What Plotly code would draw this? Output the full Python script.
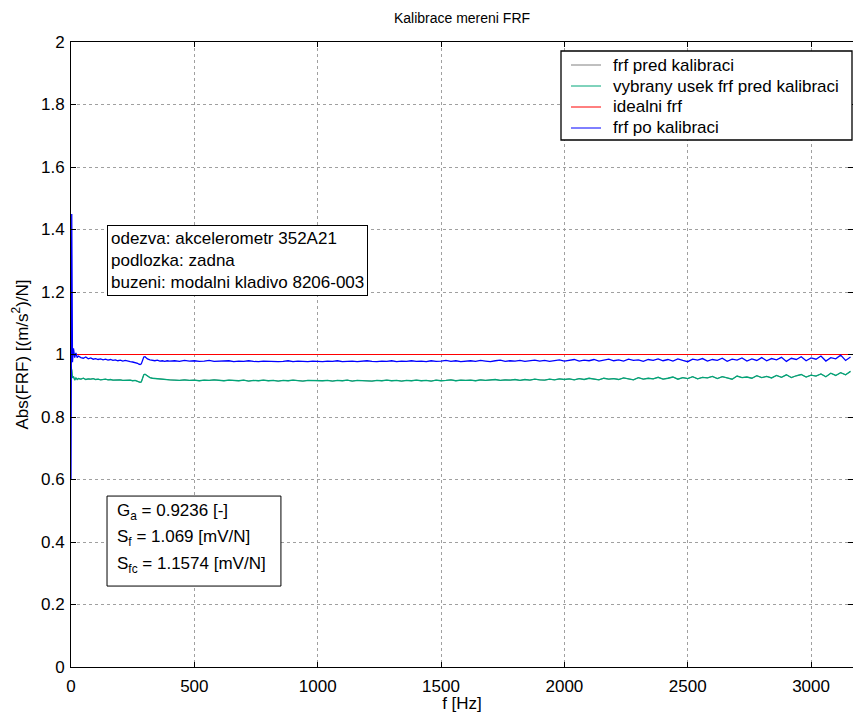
import plotly.graph_objects as go

# ---------------- data ----------------
freq_head = [0, 3, 6, 10, 15, 20, 25, 30, 40, 50, 60, 70, 80, 90, 100, 110, 120, 130, 140, 150,
             160, 170, 180, 190, 200, 210, 220, 230, 240, 250, 260, 270, 275, 280, 285, 290, 295,
             300, 305, 310, 320, 330, 340, 350, 360, 370, 380, 390, 400]
freq_tail = list(range(420, 3180, 20))
freq = freq_head + freq_tail

blue_head = [0.60, 1.45, 0.975, 1.02, 0.99, 1.005, 0.99, 0.995, 0.99, 0.988, 0.992, 0.986, 0.989,
             0.985, 0.987, 0.984, 0.986, 0.983, 0.985, 0.982, 0.984, 0.981, 0.983, 0.980, 0.982,
             0.979, 0.981, 0.978, 0.977, 0.976, 0.975, 0.972, 0.969, 0.968, 0.970, 0.985, 0.992,
             0.993, 0.990, 0.986, 0.983, 0.981, 0.980, 0.982, 0.979, 0.980, 0.978, 0.980, 0.979]
blue_tail = [
    0.980, 0.978, 0.981, 0.979, 0.980, 0.978, 0.979, 0.981, 0.978, 0.979,
    0.978, 0.980, 0.977, 0.979, 0.978, 0.980, 0.978, 0.977, 0.979, 0.978,
    0.979, 0.977, 0.978, 0.980, 0.977, 0.979, 0.978, 0.977, 0.979, 0.978,
    0.977, 0.979, 0.978, 0.980, 0.977, 0.978, 0.979, 0.977, 0.978, 0.980,
    0.978, 0.977, 0.979, 0.978, 0.980, 0.977, 0.979, 0.978, 0.980, 0.978,
    0.979, 0.977, 0.980, 0.978, 0.979, 0.981, 0.978, 0.980, 0.977, 0.979,
    0.980, 0.978, 0.981, 0.979, 0.977, 0.980, 0.982, 0.978, 0.980, 0.979,
    0.981, 0.978, 0.980, 0.982, 0.979, 0.981, 0.978, 0.980, 0.983, 0.979,
    0.981, 0.984, 0.979, 0.982, 0.980, 0.984, 0.979, 0.982, 0.985, 0.980,
    0.983, 0.979, 0.985, 0.981, 0.983, 0.978, 0.984, 0.981, 0.986, 0.980,
    0.984, 0.979, 0.986, 0.981, 0.977, 0.985, 0.982, 0.987, 0.979, 0.984,
    0.981, 0.988, 0.978, 0.985, 0.982, 0.989, 0.979, 0.986, 0.981, 0.990,
    0.980, 0.987, 0.983, 0.991, 0.978, 0.988, 0.984, 0.993, 0.980, 0.989,
    0.985, 0.995, 0.979, 0.990, 0.986, 0.998, 0.981, 0.992]
frf_po = blue_head + blue_tail

green_head = [0.96, 0.95, 0.925, 0.93, 0.918, 0.925, 0.92, 0.923, 0.921, 0.924, 0.92, 0.922, 0.921,
              0.923, 0.920, 0.921, 0.919, 0.920, 0.921, 0.919, 0.920, 0.918, 0.919, 0.918, 0.919,
              0.917, 0.918, 0.917, 0.918, 0.916, 0.917, 0.914, 0.912, 0.911, 0.912, 0.928, 0.935,
              0.937, 0.934, 0.930, 0.926, 0.924, 0.923, 0.922, 0.921, 0.921, 0.920, 0.920, 0.919]
green_tail = [
    0.918, 0.917, 0.919, 0.917, 0.918, 0.916, 0.918, 0.917, 0.919, 0.917,
    0.916, 0.918, 0.917, 0.916, 0.918, 0.915, 0.917, 0.916, 0.918, 0.916,
    0.917, 0.915, 0.917, 0.916, 0.918, 0.916, 0.915, 0.917, 0.916, 0.917,
    0.916, 0.917, 0.915, 0.917, 0.916, 0.918, 0.915, 0.917, 0.916, 0.917,
    0.915, 0.917, 0.916, 0.918, 0.916, 0.917, 0.915, 0.917, 0.916, 0.918,
    0.916, 0.917, 0.915, 0.918, 0.916, 0.917, 0.919, 0.916, 0.918, 0.917,
    0.918, 0.916, 0.919, 0.917, 0.918, 0.920, 0.917, 0.919, 0.918, 0.920,
    0.917, 0.920, 0.918, 0.921, 0.919, 0.918, 0.921, 0.919, 0.922, 0.920,
    0.922, 0.919, 0.923, 0.920, 0.924, 0.921, 0.919, 0.924, 0.921, 0.923,
    0.920, 0.925, 0.922, 0.919, 0.926, 0.921, 0.924, 0.922, 0.927, 0.921,
    0.924, 0.928, 0.921, 0.926, 0.923, 0.929, 0.922, 0.927, 0.925, 0.930,
    0.923, 0.929, 0.925, 0.921, 0.931, 0.926, 0.928, 0.924, 0.932, 0.926,
    0.930, 0.925, 0.933, 0.927, 0.935, 0.926, 0.932, 0.936, 0.928, 0.934,
    0.931, 0.938, 0.929, 0.940, 0.933, 0.942, 0.935, 0.946]
usek_pred = green_head + green_tail
frf_pred = green_head + green_tail

ideal_freq = [0, 3200]
ideal_val = [1.0, 1.0]

x_ticks = [0, 500, 1000, 1500, 2000, 2500, 3000]
y_ticks = [0, 0.2, 0.4, 0.6, 0.8, 1.0, 1.2, 1.4, 1.6, 1.8, 2.0]
y_tick_text = ["0", "0.2", "0.4", "0.6", "0.8", "1", "1.2", "1.4", "1.6", "1.8", "2"]

series_names = ["frf pred kalibraci", "vybrany usek frf pred kalibraci", "idealni frf", "frf po kalibraci"]
series_colors = ["rgb(128,128,128)", "rgb(0,166,120)", "rgb(255,0,0)", "rgb(0,0,255)"]

info_lines = ["odezva: akcelerometr 352A21", "podlozka: zadna", "buzeni: modalni kladivo 8206-003"]
param_lines = ["G<sub>a</sub> = 0.9236 [-]", "S<sub>f</sub> = 1.069 [mV/N]", "S<sub>fc</sub> = 1.1574 [mV/N]"]
param_y = [0.496, 0.413, 0.326]

# ---------------- figure ----------------
FONT = "Liberation Sans, Arial, sans-serif"
FS = 17
W, H = 853, 713
L, R, T, B = 71, 0, 42, 46
PW, PH = W - L - R, H - T - B


def px_x(p):
    return (p - L) / PW


def px_y(p):
    return (H - B - p) / PH


fig = go.Figure()
series_y = [frf_pred, usek_pred, ideal_val, frf_po]
series_x = [freq, freq, ideal_freq, freq]
series_w = [1, 1.3, 1, 1.3]
for nm, col, xs, ys, w in zip(series_names, series_colors, series_x, series_y, series_w):
    fig.add_trace(go.Scatter(x=xs, y=ys, mode="lines", name=nm, showlegend=False,
                             line=dict(color=col, width=w)))

fig.add_annotation(x=146, y=1.414, xref="x", yref="y", xanchor="left", yanchor="top",
                   text="<br>".join(info_lines), showarrow=False, align="left",
                   font=dict(family=FONT, size=FS, color="black"),
                   bordercolor="black", borderwidth=1, borderpad=3, bgcolor="white")

# parameter box (frame + separate lines for wider spacing)
fig.add_shape(type="rect", xref="x", yref="y", x0=146, x1=851, y0=0.259, y1=0.547,
              line=dict(color="black", width=1), fillcolor="white", layer="above")
for txt, yy in zip(param_lines, param_y):
    fig.add_annotation(x=178, y=yy, xref="x", yref="y", xanchor="left", yanchor="middle",
                       text=txt, showarrow=False, align="left",
                       font=dict(family=FONT, size=FS, color="black"))

# legend box drawn in MATLAB style
fig.add_shape(type="rect", xref="paper", yref="paper", x0=px_x(561), x1=px_x(852),
              y0=px_y(140), y1=px_y(51), line=dict(color="black", width=1.3),
              fillcolor="white", layer="above")
legend_rows = [65, 86, 107, 128]
for nm, col, ry in zip(series_names, series_colors, legend_rows):
    fig.add_shape(type="line", xref="paper", yref="paper", x0=px_x(571), x1=px_x(601),
                  y0=px_y(ry), y1=px_y(ry), line=dict(color=col, width=1), layer="above")
    fig.add_annotation(x=px_x(611), y=px_y(ry), xref="paper", yref="paper", xanchor="left",
                       yanchor="middle", text=nm, showarrow=False,
                       font=dict(family=FONT, size=FS, color="black"))

fig.update_layout(
    width=W, height=H,
    margin=dict(l=L, r=R, t=T, b=B),
    paper_bgcolor="white", plot_bgcolor="white",
    font=dict(family=FONT, size=FS, color="black"),
    title=dict(text="Kalibrace mereni FRF", x=0.5416, xanchor="center", y=0.975, yanchor="middle",
               font=dict(family=FONT, size=14, color="black")),
    showlegend=False,
    xaxis=dict(range=[0, 3170], tickvals=x_ticks, showgrid=True, gridcolor="rgb(160,160,160)",
               griddash="dot", gridwidth=1, showline=True, linecolor="black", linewidth=1,
               ticks="inside", ticklen=5, tickcolor="black", mirror="ticks", zeroline=False,
               ticklabelstandoff=4,
               title=dict(text="f [Hz]", standoff=6, font=dict(family=FONT, size=FS)),
               tickfont=dict(family=FONT, size=FS)),
    yaxis=dict(range=[0, 2], tickvals=y_ticks, ticktext=y_tick_text, showgrid=True,
               gridcolor="rgb(160,160,160)", griddash="dot", gridwidth=1, showline=True,
               linecolor="black", linewidth=1, ticks="inside", ticklen=5, tickcolor="black",
               mirror="ticks", zeroline=False, ticklabelstandoff=2,
               title=dict(text="Abs(FRF) [(m/s<sup>2</sup>)/N]", standoff=8, font=dict(family=FONT, size=FS)),
               tickfont=dict(family=FONT, size=FS)),
)

fig.write_html("out.html")
